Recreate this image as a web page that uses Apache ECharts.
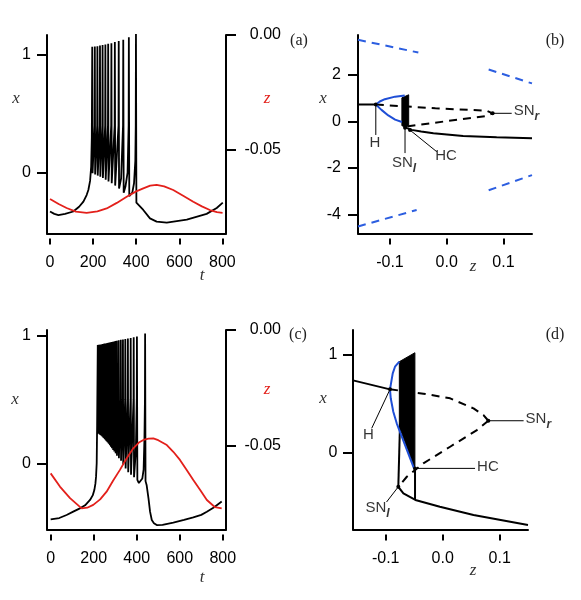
<!DOCTYPE html>
<html><head><meta charset="utf-8">
<script src="https://cdn.jsdelivr.net/npm/echarts@6/dist/echarts.min.js"></script>
<style>html,body{margin:0;padding:0;background:#fff}#c{width:581px;height:600px}</style>
</head><body><div id="c"></div><script>
// ---------- tick values ----------
const tTicks = [0, 200, 400, 600, 800];
const xTicksTime = [0, 1];
const zTicksTime = [-0.05, 0];
const zTicksBif = [-0.1, 0, 0.1];
const xTicksB = [-4, -2, 0, 2];
const xTicksD = [0, 1];

// ---------- panel (a): time series ----------
const aX = [[0,-0.33],[20,-0.35],[39,-0.36],[70,-0.35],[108,-0.33],[135,-0.29],[155,-0.246],[170,-0.19],[178,-0.147],[186,-0.07],[191,0.05],[194,0.3],
 [196,1.07],[197.5,-0.005],[207,0.4],
 [208,1.072],[209.5,-0.015],[219,0.4],
 [220,1.075],[221.5,-0.025],[231,0.4],
 [232,1.08],[233.5,-0.035],[243,0.4],
 [244,1.085],[245.5,-0.045],[256,0.4],
 [257,1.09],[258.5,-0.06],[269,0.4],
 [270,1.095],[271.5,-0.075],[284,0.4],
 [285,1.10],[286.5,-0.09],[300,0.4],
 [301,1.11],[302.5,-0.11],[318,0.4],
 [319,1.12],[320.5,-0.135],[330,-0.05],[339,0.4],
 [340,1.13],[342,-0.17],[350,-0.12],[360,0.0],[365,0.4],
 [366,1.15],[368,-0.2],[374,-0.21],[382,-0.17],[390,-0.09],[396,0.1],[398,0.4],
 [399,1.19],[401,-0.255],[433,-0.317],[464,-0.388],[495,-0.416],[542,-0.425],[635,-0.40],[727,-0.35],[774,-0.30],[802,-0.255]];
const aZ = [[0,-0.0713],[40,-0.0735],[77,-0.0752],[120,-0.0768],[170,-0.0773],[220,-0.0767],[263,-0.0754],[310,-0.073],[356,-0.0703],
 [400,-0.068],[433,-0.0667],[465,-0.0655],[495,-0.0652],[530,-0.0658],[572,-0.0674],[620,-0.07],[665,-0.0725],[705,-0.0745],
 [742,-0.0761],[775,-0.077],[801,-0.0773]];

// ---------- panel (c): time series ----------
const cX = [[0,-0.44],[40,-0.43],[74,-0.406],[105,-0.38],[136,-0.354],[160,-0.33],[183,-0.288],[196,-0.25],[203,-0.21],[208,-0.16],[211,-0.105],[214,0.0],[216,0.3],
 [219,0.930],[220,0.236],[222.3,0.5],
 [223,0.931],[224,0.232],[226.3,0.5],
 [227,0.932],[228,0.227],[230.3,0.5],
 [231,0.933],[232,0.222],[234.3,0.5],
 [235,0.934],[236,0.216],[238.3,0.5],
 [239,0.935],[240,0.21],[242.3,0.5],
 [243,0.937],[244,0.203],[246.3,0.5],
 [247,0.938],[248,0.196],[250.3,0.5],
 [251,0.94],[252,0.188],[254.8,0.5],
 [255.5,0.941],[256.5,0.18],[259.3,0.5],
 [260,0.943],[261,0.172],[263.8,0.5],
 [264.5,0.945],[265.5,0.163],[268.3,0.5],
 [269,0.947],[270,0.153],[273.3,0.5],
 [274,0.949],[275,0.142],[278.3,0.5],
 [279,0.951],[280,0.13],[283.3,0.5],
 [284,0.953],[285,0.118],[288.8,0.5],
 [289.5,0.955],[290.5,0.105],[294.3,0.5],
 [295,0.957],[296,0.092],[300.3,0.5],
 [301,0.96],[302,0.078],[306.3,0.5],
 [307,0.963],[308.2,0.06],[315.2,0.5],
 [316,0.966],[317.2,0.04],[325.2,0.5],
 [326,0.97],[327.2,0.02],[335.2,0.5],
 [336,0.973],[337.2,-0.01],[346.2,0.5],
 [347,0.976],[348.5,-0.04],[358.2,0.5],
 [359,0.98],[360.5,-0.07],[371.2,0.5],
 [372,0.985],[373.5,-0.09],[385.2,0.5],
 [386,0.99],[387.5,-0.11],[396,0.1],[400.2,0.5],
 [401,0.995],[403,-0.13],[410,-0.155],[418,-0.15],[426,-0.12],[432,-0.05],[436,0.2],[438.2,0.5],
 [439,1.02],[441,-0.14],[446,-0.17],[455,-0.28],[462,-0.38],[470,-0.445],[480,-0.47],[493,-0.485],[520,-0.483],[570,-0.466],
 [620,-0.445],[663,-0.424],[700,-0.405],[726,-0.38],[760,-0.345],[795,-0.30]];
const cZ = [[0,-0.0618],[43,-0.0675],[90,-0.0725],[144,-0.0769],[170,-0.0766],[198,-0.0754],[230,-0.073],[260,-0.0697],[290,-0.065],
 [322,-0.0603],[352,-0.0555],[384,-0.051],[410,-0.0485],[431,-0.0474],[455,-0.0468],[477,-0.0467],[500,-0.0475],[540,-0.0496],
 [570,-0.0525],[601,-0.056],[630,-0.060],[663,-0.0647],[695,-0.069],[726,-0.0733],[764,-0.0764],[795,-0.0769]];

// ---------- panel (b): bifurcation diagram ----------
const bBlueDashed = [
 [[-0.1564,3.52],[-0.05,2.97]],
 [[0.074,2.24],[0.1504,1.64]],
 [[-0.1564,-4.52],[-0.053,-3.81]],
 [[0.074,-2.96],[0.1504,-2.31]]];
const bUpperSolid = [[-0.1564,0.73],[-0.125,0.73]];
const bMiddleDashed = [[-0.125,0.73],[-0.02,0.57],[0.0705,0.465],[0.081,0.353],[0.0705,0.237],[-0.0647,-0.19],[-0.0735,-0.25]];
const bLowerSolid = [[-0.0735,-0.25],[-0.062,-0.36],[-0.045,-0.43],[-0.0235,-0.51],[0.029,-0.62],[0.088,-0.68],[0.1504,-0.72]];
const bBlueUpper = [[-0.125,0.73],[-0.118,0.86],[-0.109,0.96],[-0.091,1.07],[-0.074,1.12]];
const bBlueLower = [[-0.125,0.73],[-0.115,0.50],[-0.103,0.26],[-0.091,0.08],[-0.079,-0.02]];
const bBand = [[-0.079,1.02],[-0.067,1.15],[-0.067,-0.18],[-0.073,-0.24],[-0.079,-0.18]];
const bLeaders = [
 [[-0.125,0.73],[-0.125,-0.58]],
 [[-0.0735,-0.27],[-0.0735,-1.36]],
 [[-0.0647,-0.37],[-0.0176,-1.30]],
 [[0.081,0.353],[0.1146,0.353]]];
const bLabels = [
 {name:'H', value:[-0.1265,-0.97], pos:'inside'},
 {name:'SN_l', value:[-0.0753,-1.87], pos:'inside'},
 {name:'HC', value:[-0.0012,-1.53], pos:'inside'},
 {name:'SN_r', value:[0.1146,0.353], pos:'right'}];

// ---------- panel (d): bifurcation diagram ----------
const dUpperSolid = [[-0.1574,0.735],[-0.0925,0.644]];
const dUpperDashed = [[-0.0925,0.644],[-0.034,0.60],[0.013,0.553],[0.054,0.45],[0.0715,0.383],[0.080,0.325]];
const dLowerDashed = [[0.080,0.325],[0.06,0.23],[0.013,0.061],[-0.034,-0.108],[-0.063,-0.244],[-0.0779,-0.346]];
const dLowerSolid = [[-0.0779,-0.346],[-0.069,-0.413],[-0.048,-0.48],[-0.005,-0.549],[0.054,-0.633],[0.1496,-0.735]];
const dJumpLeft = [[-0.0779,-0.346],[-0.0749,0.30]];
const dJumpRight = [[-0.0486,-0.159],[-0.0486,-0.48]];
const dBlue = [[-0.0761,0.925],[-0.0837,0.874],[-0.0877,0.807],[-0.0907,0.705],[-0.0925,0.644],[-0.0912,0.553],[-0.0867,0.417],[-0.0807,0.299],[-0.0504,-0.159]];
const dFill = [[-0.0761,0.925],[-0.0488,1.016],[-0.0488,-0.159],[-0.0761,0.264]];
const dLeaders = [
 [[-0.0925,0.644],[-0.1246,0.248]],
 [[0.080,0.325],[0.1419,0.325]],
 [[-0.0486,-0.159],[0.0567,-0.159]],
 [[-0.0779,-0.346],[-0.0986,-0.501]]];
const dLabels = [
 {name:'H', value:[-0.1305,0.163], pos:'inside'},
 {name:'SN_r', value:[0.1419,0.325], pos:'right'},
 {name:'HC', value:[0.0567,-0.159], pos:'right'},
 {name:'SN_l', value:[-0.1144,-0.582], pos:'inside'}];

// ---------- styling / helpers ----------
const SANS = "'Liberation Sans', Arial, sans-serif";
const SERIF = "'Liberation Serif', 'DejaVu Serif', serif";
const BLACK = '#000', RED = '#e3201b', BLUE = '#1f4fd6', BLUE_D = '#2c5ee0';

function xMain(g, min, max){
  return {type:'value', gridIndex:g, min, max, position:'bottom',
    axisLine:{show:true, onZero:false, lineStyle:{color:BLACK, width:2}},
    axisTick:{show:false}, axisLabel:{show:false}, splitLine:{show:false}};
}
function xTickAxis(g, min, max, ticks, fmt){
  return {type:'value', gridIndex:g, min, max, position:'bottom', offset:5,
    axisLine:{show:false, onZero:false},
    axisTick:{show:true, length:6, customValues:ticks, lineStyle:{color:BLACK, width:2}},
    axisLabel:{show:true, customValues:ticks, margin:16, formatter:fmt, fontFamily:SANS, fontSize:16, color:BLACK},
    splitLine:{show:false}};
}
function yLeft(g, min, max, ticks, fmt, margin){
  return {type:'value', gridIndex:g, min, max, position:'left',
    axisLine:{show:true, onZero:false, lineStyle:{color:BLACK, width:2}},
    axisTick:{show:true, length:10, customValues:ticks, lineStyle:{color:BLACK, width:2}},
    axisLabel:{show:true, customValues:ticks, margin:margin, formatter:fmt, fontFamily:SANS, fontSize:16, color:BLACK},
    splitLine:{show:false}};
}
function yRight(g, min, max, ticks, fmt){
  return {type:'value', gridIndex:g, min, max, position:'right',
    axisLine:{show:true, onZero:false, lineStyle:{color:BLACK, width:2}},
    axisTick:{show:true, length:10, customValues:ticks, lineStyle:{color:BLACK, width:2}},
    axisLabel:{show:true, customValues:ticks, margin:55, align:'right', formatter:fmt, fontFamily:SANS, fontSize:16, color:BLACK},
    splitLine:{show:false}};
}
function line(xi, yi, data, color, width, dash){
  return {type:'line', xAxisIndex:xi, yAxisIndex:yi, data:data, showSymbol:false, symbol:'none',
    lineStyle:{color:color, width:width, type:dash || 'solid', cap:'butt'}, silent:true, animation:false, z:2};
}
function poly(xi, yi, pts, color){
  return {type:'custom', xAxisIndex:xi, yAxisIndex:yi, data:[pts[0]], encode:{x:0, y:1}, silent:true, animation:false,
    renderItem:function(params, api){
      return {type:'polygon', shape:{points: pts.map(function(p){ return api.coord(p); })},
        style:{fill:color, stroke:color, lineWidth:1}};
    }};
}
function leaders(xi, yi, list){
  return list.map(function(seg){
    return {type:'line', xAxisIndex:xi, yAxisIndex:yi, silent:true, animation:false, showSymbol:true, z:4,
      data:[{value:seg[0], symbol:'circle', symbolSize:4}, {value:seg[1], symbol:'none'}],
      itemStyle:{color:BLACK}, lineStyle:{color:BLACK, width:1}};
  });
}
function labelText(n){
  if (n === 'SN_l') return '{m|SN}{s|l}';
  if (n === 'SN_r') return '{m|SN}{s|r}';
  return '{m|' + n + '}';
}
function labels(xi, yi, list){
  return {type:'scatter', xAxisIndex:xi, yAxisIndex:yi, silent:true, animation:false, symbolSize:0, z:5, clip:false,
    data: list.map(function(d){ return {name:d.name, value:d.value, label:{position:d.pos}}; }),
    label:{show:true, distance:2, color:BLACK, formatter:function(p){ return labelText(p.name); },
      rich:{m:{fontFamily:SANS, fontSize:15, color:BLACK, lineHeight:18, verticalAlign:'top'},
            s:{fontFamily:SANS, fontSize:12, fontWeight:'bold', fontStyle:'italic', color:BLACK, lineHeight:19, verticalAlign:'bottom'}}}};
}

const grids = [
  {left:47, top:35, width:179, height:198.5},
  {left:358, top:35, width:174, height:198.5},
  {left:47, top:330, width:179, height:199.5},
  {left:353, top:330, width:175, height:199.5}];
grids.forEach(function(g){ g.outerBoundsMode = 'none'; g.containLabel = false; });

const fInt = function(v){ return String(v); };
const f1 = function(v){ return v.toFixed(1); };
const f2 = function(v){ return v.toFixed(2); };

const xAxes = [
  xMain(0, -14, 817), xTickAxis(0, -14, 817, tTicks, fInt),
  xMain(1, -0.1564, 0.1504), xTickAxis(1, -0.1564, 0.1504, zTicksBif, f1),
  xMain(2, -17, 815), xTickAxis(2, -17, 815, tTicks, fInt),
  xMain(3, -0.1574, 0.1496), xTickAxis(3, -0.1574, 0.1496, zTicksBif, f1)];
const yAxes = [
  yLeft(0, -0.517, 1.17, xTicksTime, fInt, 16),   // 0
  yRight(0, -0.0863, 0, zTicksTime, f2),          // 1
  yLeft(1, -4.823, 3.725, xTicksB, fInt, 17),     // 2
  yLeft(2, -0.52, 1.047, xTicksTime, fInt, 16),   // 3
  yRight(2, -0.086, 0, zTicksTime, f2),           // 4
  yLeft(3, -0.78, 1.247, xTicksD, fInt, 15.5)];   // 5

const series = [];
// (a)
series.push(line(0, 0, aX, BLACK, 1.8));
series.push(line(0, 1, aZ, RED, 1.8));
// (b)
bBlueDashed.forEach(function(s){ series.push(line(2, 2, s, BLUE_D, 2, [8,6])); });
series.push(line(2, 2, bUpperSolid, BLACK, 2));
series.push(line(2, 2, bMiddleDashed, BLACK, 2, [8,6]));
series.push(line(2, 2, bLowerSolid, BLACK, 2));
series.push(line(2, 2, bBlueUpper, BLUE, 2));
series.push(line(2, 2, bBlueLower, BLUE, 2));
series.push(poly(2, 2, bBand, BLACK));
leaders(2, 2, bLeaders).forEach(function(s){ series.push(s); });
series.push(labels(2, 2, bLabels));
// (c)
series.push(line(4, 3, cX, BLACK, 1.8));
series.push(line(4, 4, cZ, RED, 1.8));
// (d)
series.push(line(6, 5, dUpperSolid, BLACK, 2));
series.push(line(6, 5, dUpperDashed, BLACK, 2, [8,6]));
series.push(line(6, 5, dLowerDashed, BLACK, 2, [8,6]));
series.push(line(6, 5, dLowerSolid, BLACK, 2));
series.push(line(6, 5, dJumpLeft, BLACK, 2));
series.push(line(6, 5, dJumpRight, BLACK, 2));
series.push(poly(6, 5, dFill, BLACK));
series.push(line(6, 5, dBlue, BLUE, 2));
leaders(6, 5, dLeaders).forEach(function(s){ series.push(s); });
series.push(labels(6, 5, dLabels));

function txt(x, y, s, color, italic, size){
  return {type:'text', x:x, y:y, silent:true,
    style:{text:s, fill:color, font:(italic ? 'italic ' : '') + size + 'px ' + SERIF,
      textAlign:'center', textVerticalAlign:'middle', verticalAlign:'middle'}};
}
const graphics = [
  txt(16, 99, 'x', '#333', true, 17), txt(267, 99, 'z', RED, true, 17), txt(202, 276, 't', '#333', true, 17),
  txt(323, 99, 'x', '#333', true, 17), txt(473, 267, 'z', '#333', true, 17),
  txt(15, 400, 'x', '#333', true, 17), txt(267, 390, 'z', RED, true, 17), txt(202, 578, 't', '#333', true, 17),
  txt(323, 399, 'x', '#333', true, 17), txt(473, 571, 'z', '#333', true, 17),
  txt(299, 41, '(a)', '#222', false, 16), txt(555, 41, '(b)', '#222', false, 16),
  txt(298, 335, '(c)', '#222', false, 16), txt(555, 335, '(d)', '#222', false, 16)];

const chart = echarts.init(document.getElementById('c'), null, {renderer:'canvas'});
chart.setOption({
  animation:false, backgroundColor:'#fff',
  grid:grids, xAxis:xAxes, yAxis:yAxes, series:series, graphic:graphics
});
</script></body></html>
